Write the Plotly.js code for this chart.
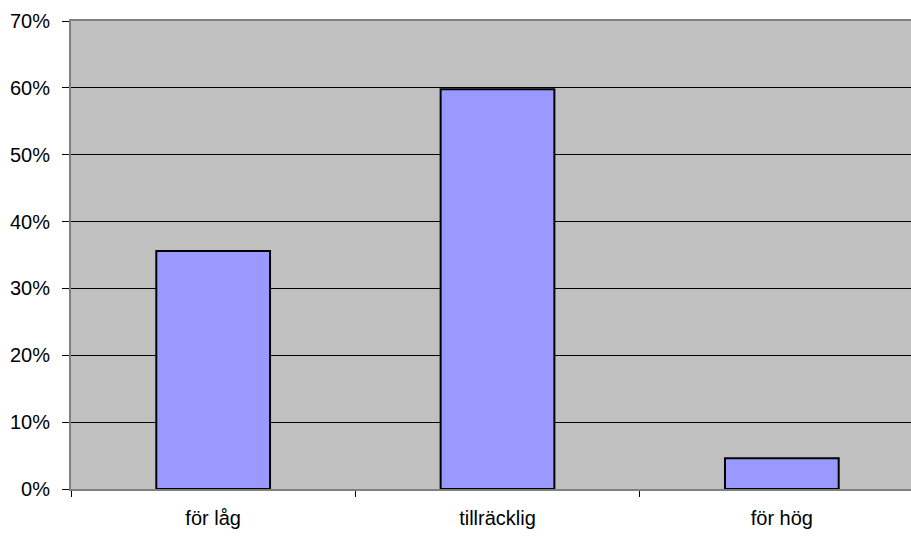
<!DOCTYPE html>
<html>
<head>
<meta charset="utf-8">
<script src="https://cdn.plot.ly/plotly-3.0.1.min.js"></script>
<style>html,body{margin:0;padding:0;background:#fff;overflow:hidden;}#chart{width:924px;height:536px;}</style>
</head>
<body>
<div id="chart"></div>
<script>
const categories = ["för låg", "tillräcklig", "för hög"];
const values = [35.6, 59.8, 4.6];
const yTickVals = [0, 10, 20, 30, 40, 50, 60, 70];
const yTickText = ["0%", "10%", "20%", "30%", "40%", "50%", "60%", "70%"];

const trace = {
  type: "bar",
  x: categories,
  y: values,
  marker: { color: "#9999FF", line: { color: "#000000", width: 2 } },
  hoverinfo: "skip"
};

const layout = {
  width: 924,
  height: 536,
  margin: { l: 71, r: 0, t: 21, b: 47, pad: 0 },
  paper_bgcolor: "#FFFFFF",
  plot_bgcolor: "#C0C0C0",
  bargap: 0.6,
  showlegend: false,
  font: { family: "Liberation Sans, Arial, sans-serif", size: 20, color: "#000000" },
  xaxis: {
    type: "category",
    showline: true,
    linecolor: "#808080",
    linewidth: 2,
    mirror: true,
    ticks: "outside",
    tickson: "boundaries",
    ticklen: 6,
    tickcolor: "#000000",
    showgrid: false,
    tickfont: { size: 20 },
    ticklabelstandoff: 10
  },
  yaxis: {
    range: [0, 70],
    tickvals: yTickVals,
    ticktext: yTickText,
    showgrid: true,
    gridcolor: "#000000",
    gridwidth: 1,
    zeroline: false,
    showline: true,
    linecolor: "#808080",
    linewidth: 2,
    ticks: "outside",
    ticklen: 7,
    tickcolor: "#000000",
    tickfont: { size: 20 },
    ticklabelstandoff: 8
  }
};

Plotly.newPlot("chart", [trace], layout, { staticPlot: true, displayModeBar: false });
</script>
</body>
</html>
